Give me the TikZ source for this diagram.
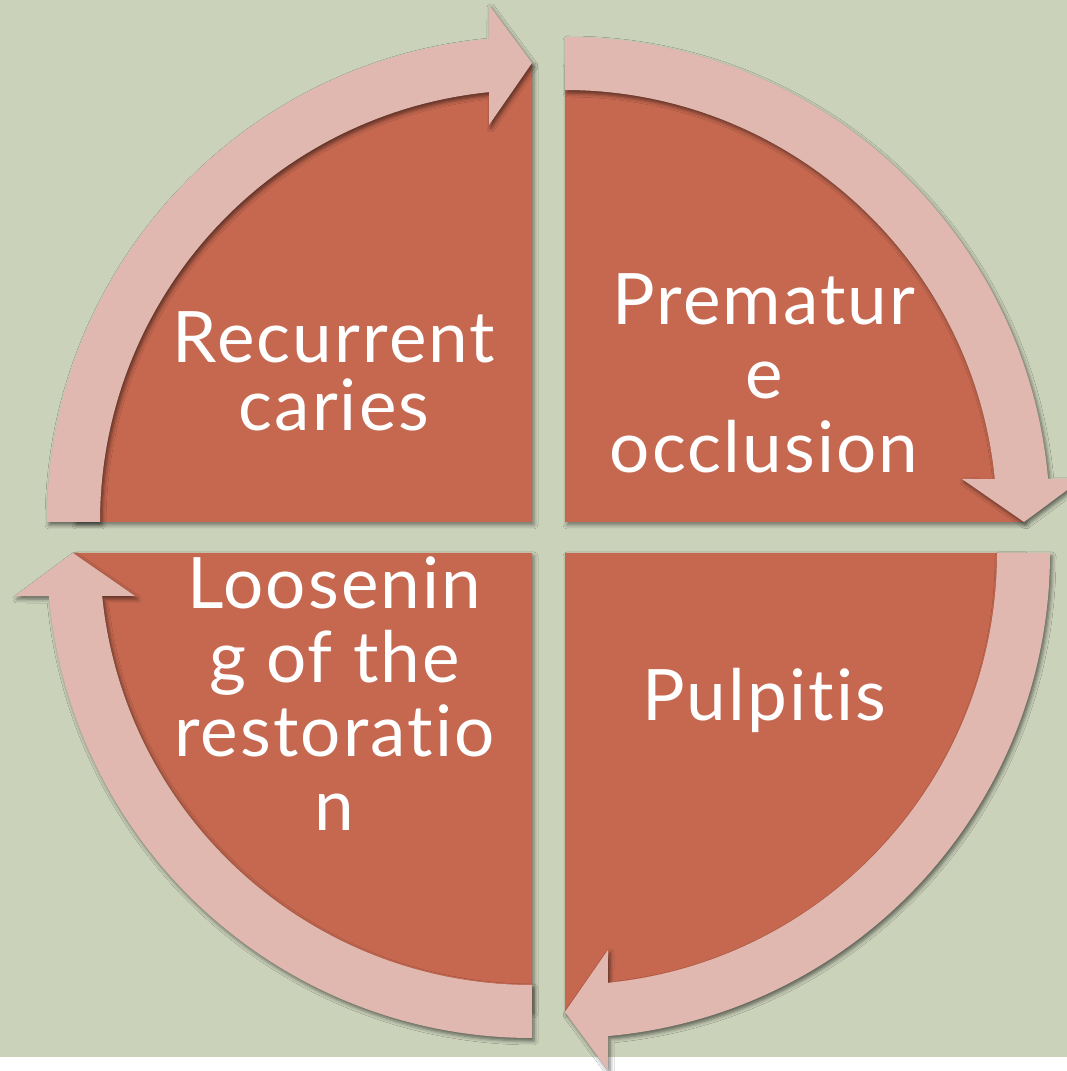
\documentclass[tikz,border=0pt]{standalone}
\usepackage{fontspec}
\setmainfont{Lato}[Ligatures=NoCommon, LetterSpace=3]
\usetikzlibrary{shadows.blur}
\definecolor{bg}{HTML}{CBD2BA}
\definecolor{sect}{HTML}{C66850}
\definecolor{band}{HTML}{E0B8B0}
\tikzset{
  sectorfill/.style={fill=sect, blur shadow={shadow xshift=2pt, shadow yshift=-3pt, shadow blur radius=4pt, shadow opacity=45}},
  bandfill/.style={fill=band, blur shadow={shadow xshift=2pt, shadow yshift=-3pt, shadow blur radius=4pt, shadow opacity=55}},
  qtext/.style={text=white, font=\fontsize{71}{74}\selectfont, align=center, inner sep=0pt}
}
\newcommand\qsector[2]{%
  \begin{scope}[shift={#1}, rotate=#2]
    \fill[sectorfill] (0,0) -- (90:458) arc[start angle=90, end angle=0, radius=458] -- cycle;
  \end{scope}}
\newcommand\qarrow[2]{%
  \begin{scope}[shift={#1}, rotate=#2]
    \fill[bandfill] (90:485) arc[start angle=90, end angle=5.09, radius=485]
      -- (517,43) -- (459,0) -- (397,43)
      -- (5.71:432) arc[start angle=5.71, end angle=90, radius=432] -- cycle;
  \end{scope}}
\begin{document}
\begin{tikzpicture}[x=1pt, y=1pt]
  \useasboundingbox (0,0) rectangle (1067,1071);
  \clip (0,0) rectangle (1067,1071);
  \fill[white] (0,0) rectangle (1067,1071);
  \fill[bg] (0,14) rectangle (1067,1071);
  % sectors
  \qsector{(565,549)}{0}
  \qsector{(565,518)}{-90}
  \qsector{(532,518)}{-180}
  \qsector{(532,549)}{-270}
  % circular arrows
  \qarrow{(565,549)}{0}
  \qarrow{(565,518)}{-90}
  \qarrow{(532,518)}{-180}
  \qarrow{(532,549)}{-270}
  % texts
  \node[qtext, font=\fontsize{71}{68}\selectfont] (recur) at (334,699.5) {Recurrent\\caries};
  \node[qtext] (prem) at (764,697.5) {Prematur\\e\\occlusion};
  \node[qtext] (pulp) at (764,371) {Pulpitis};
  \node[qtext] (loos) at (334.5,377.5) {Loosenin\\g of the\\restoratio\\n};
\end{tikzpicture}
\end{document}
